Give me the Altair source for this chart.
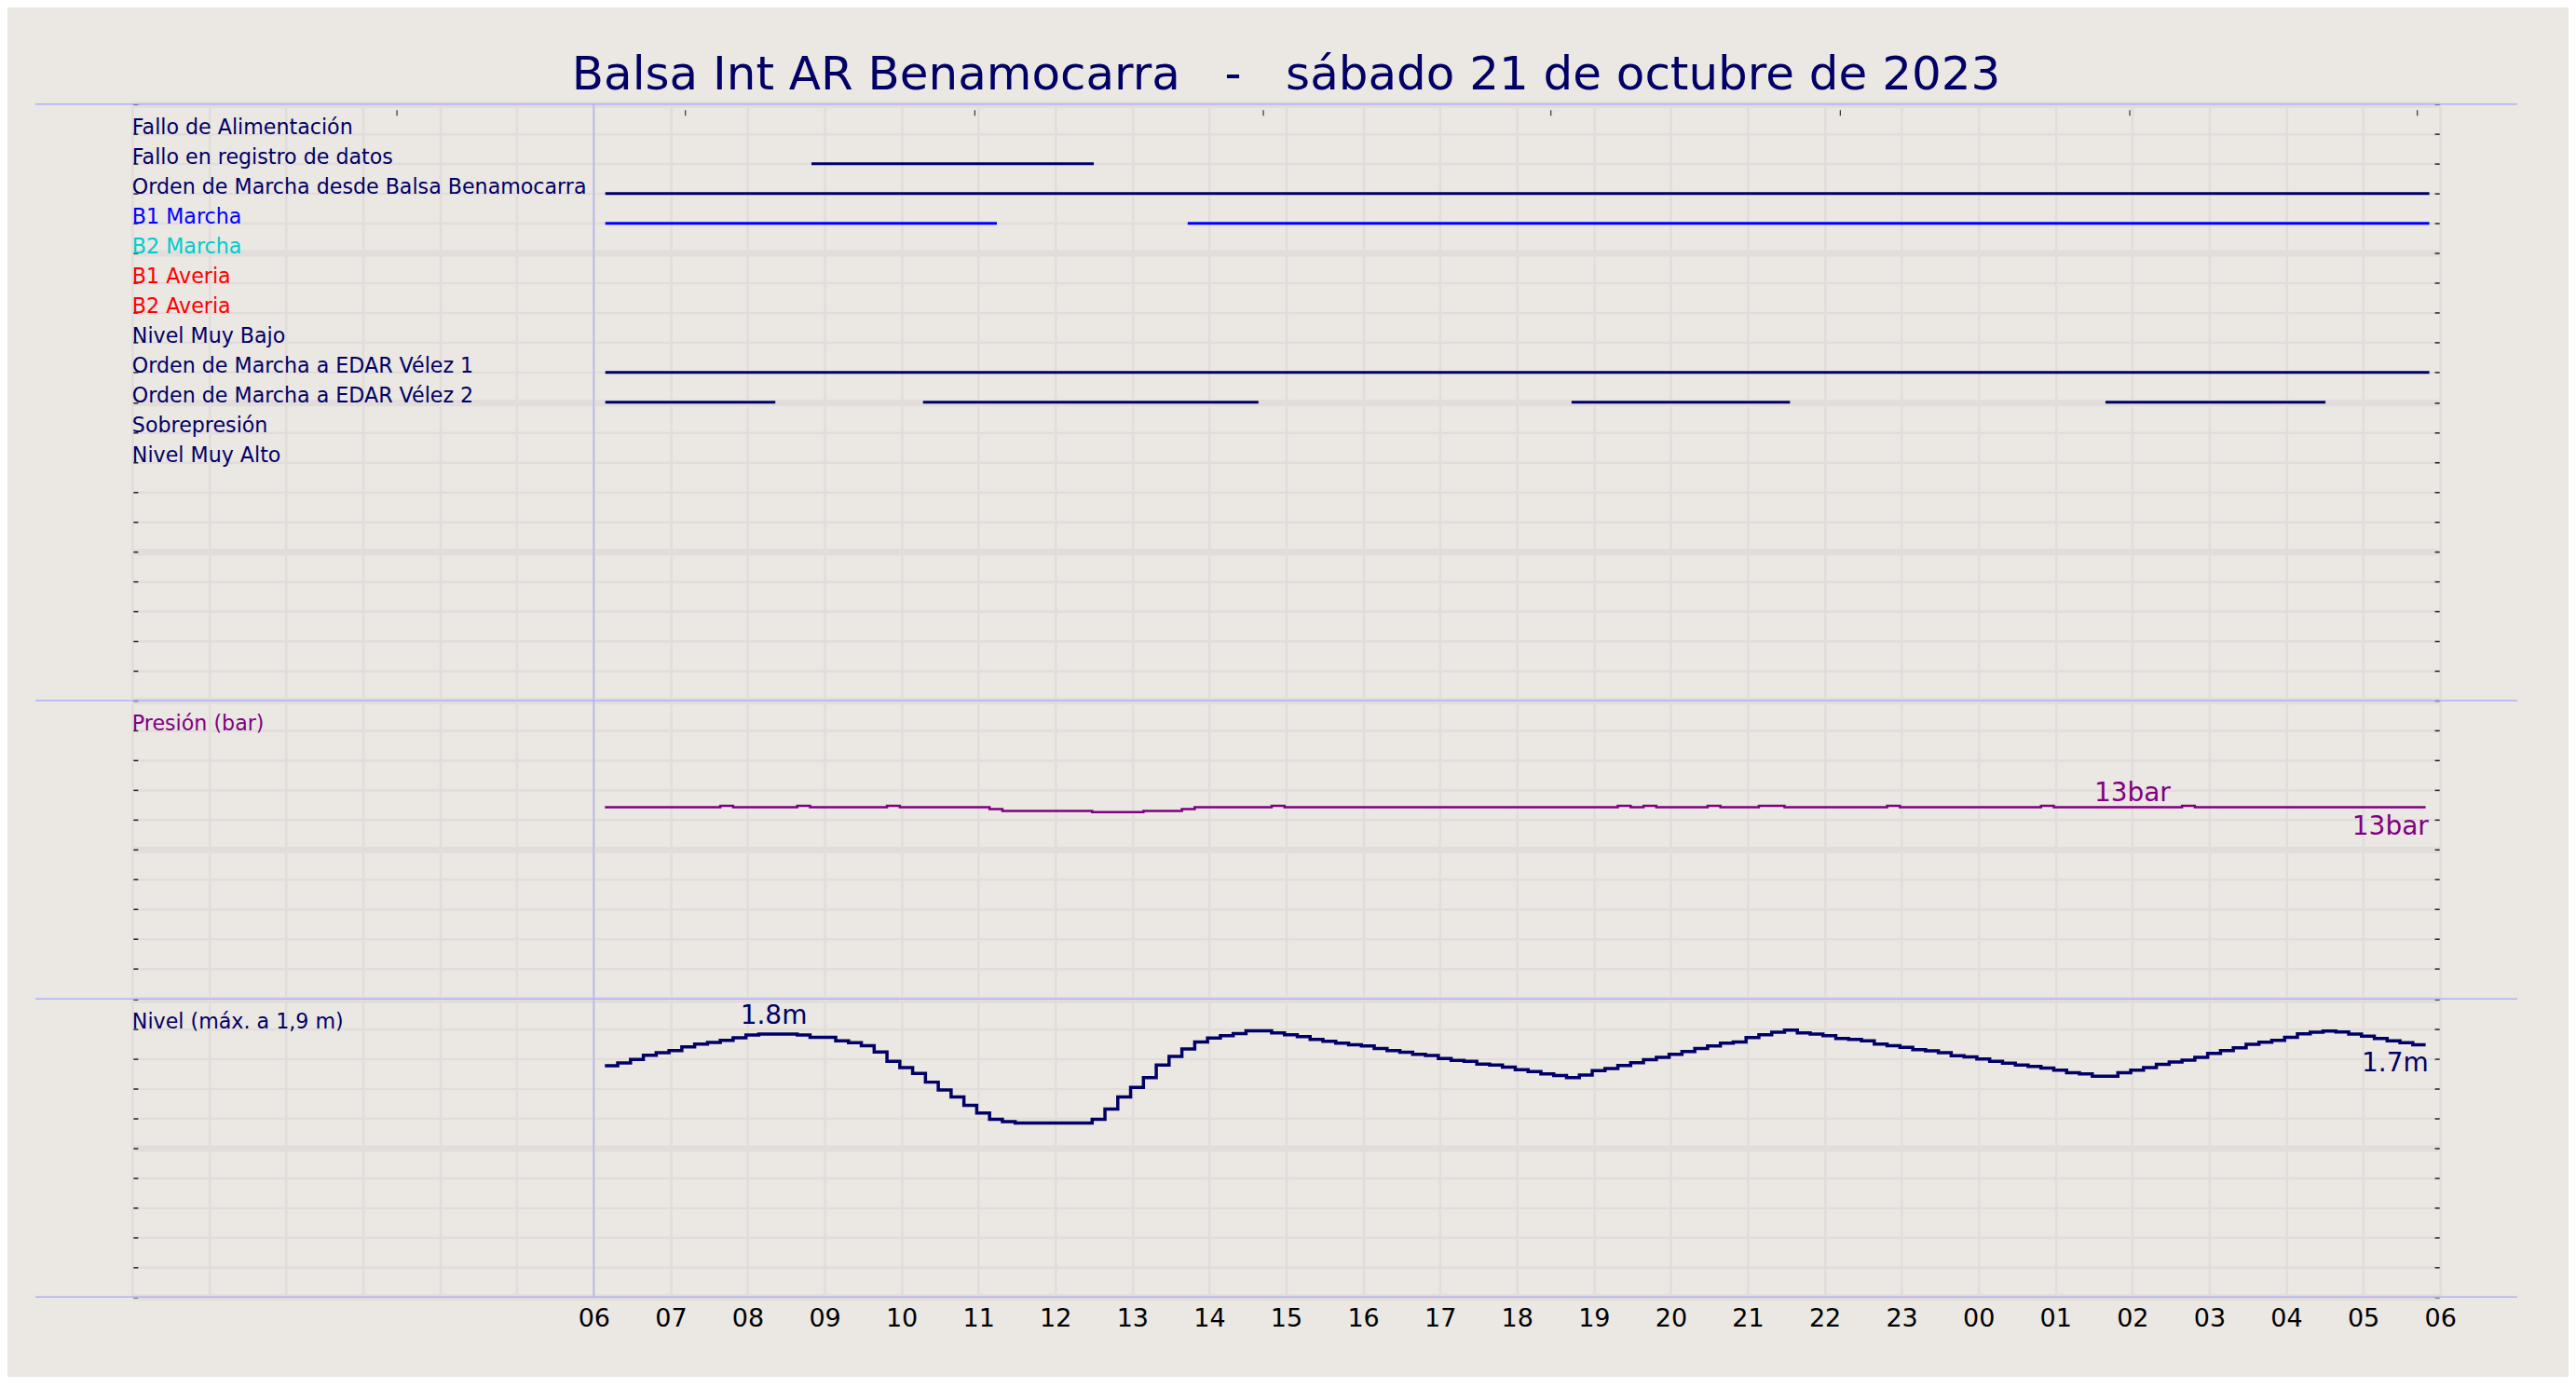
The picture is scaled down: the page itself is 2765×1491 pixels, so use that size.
import altair as alt
import pandas as pd

# ---------------- text ----------------
TITLE = "Balsa Int AR Benamocarra\u00a0\u00a0\u00a0-\u00a0\u00a0\u00a0sábado 21 de octubre de 2023"

NAVY = "#000066"
PURPLE = "#800080"
BLUE = "#0000FF"
CYAN = "#00CCCC"
RED = "#FF0000"
LAVENDER = "#B0B0FA"
GRID = "#E2DDDB"
BG = "#EBE7E2"

# ---------------- signal rows (top panel) ----------------
STATUS_LABELS = [
    "Fallo de Alimentación",
    "Fallo en registro de datos",
    "Orden de Marcha desde Balsa Benamocarra",
    "B1 Marcha",
    "B2 Marcha",
    "B1 Averia",
    "B2 Averia",
    "Nivel Muy Bajo",
    "Orden de Marcha a EDAR Vélez 1",
    "Orden de Marcha a EDAR Vélez 2",
    "Sobrepresión",
    "Nivel Muy Alto",
]
STATUS_COLORS = [NAVY, NAVY, NAVY, BLUE, CYAN, RED, RED, NAVY, NAVY, NAVY, NAVY, NAVY]

# active periods of each signal (hours since 00:00 of the 21st)
EVENT_SIGNAL = [
    "Fallo en registro de datos",
    "Orden de Marcha desde Balsa Benamocarra",
    "B1 Marcha",
    "B1 Marcha",
    "Orden de Marcha a EDAR Vélez 1",
    "Orden de Marcha a EDAR Vélez 2",
    "Orden de Marcha a EDAR Vélez 2",
    "Orden de Marcha a EDAR Vélez 2",
    "Orden de Marcha a EDAR Vélez 2",
]
EVENT_START_H = [8.83, 6.15, 6.15, 13.72, 6.15, 6.15, 10.28, 18.71, 25.65]
EVENT_END_H = [12.50, 29.86, 11.24, 29.86, 29.86, 8.36, 14.64, 21.55, 28.51]

# ---------------- panels ----------------
PANEL_ROWS = [20, 10, 10]
PANEL_TITLES = [None, "Presión (bar)", "Nivel (máx. a 1,9 m)"]
PANEL_TITLE_COLORS = [None, PURPLE, NAVY]
PRESSURE_DOMAIN = [0, 20]
LEVEL_DOMAIN = [0, 2]

# ---------------- time series (10-minute records from 06:09) ----------------
FIRST_SAMPLE_H = 6.145
SAMPLE_MIN = 10

LEVEL_M = [
    1.551, 1.570, 1.593, 1.622, 1.639, 1.653, 1.678, 1.697, 1.707, 1.722, 1.738, 1.757,
    1.763, 1.763, 1.763, 1.757, 1.742, 1.742, 1.718, 1.705, 1.686, 1.643, 1.580, 1.539,
    1.499, 1.441, 1.389, 1.342, 1.286, 1.234, 1.192, 1.176, 1.167, 1.167, 1.167, 1.167,
    1.167, 1.167, 1.192, 1.261, 1.342, 1.406, 1.472, 1.556, 1.614, 1.664, 1.711, 1.737,
    1.753, 1.767, 1.786, 1.786, 1.772, 1.759, 1.747, 1.728, 1.715, 1.703, 1.691, 1.684,
    1.666, 1.653, 1.641, 1.628, 1.620, 1.599, 1.587, 1.580, 1.562, 1.556, 1.541, 1.524,
    1.512, 1.497, 1.485, 1.472, 1.489, 1.518, 1.533, 1.553, 1.572, 1.591, 1.607, 1.628,
    1.647, 1.666, 1.684, 1.703, 1.711, 1.740, 1.759, 1.776, 1.790, 1.772, 1.763, 1.753,
    1.734, 1.727, 1.718, 1.697, 1.686, 1.674, 1.659, 1.651, 1.639, 1.618, 1.610, 1.597,
    1.580, 1.568, 1.556, 1.547, 1.535, 1.522, 1.504, 1.497, 1.481, 1.481, 1.504, 1.522,
    1.539, 1.560, 1.576, 1.589, 1.607, 1.634, 1.653, 1.672, 1.695, 1.709, 1.722, 1.742,
    1.765, 1.776, 1.784, 1.778, 1.763, 1.749, 1.734, 1.718, 1.705, 1.691, 1.691,
]

PRESSURE_BAR = [
    12.84, 12.84, 12.84, 12.84, 12.84, 12.84, 12.84, 12.84, 12.84, 12.94, 12.84, 12.84,
    12.84, 12.84, 12.84, 12.94, 12.84, 12.84, 12.84, 12.84, 12.84, 12.84, 12.94, 12.84,
    12.84, 12.84, 12.84, 12.84, 12.84, 12.84, 12.72, 12.60, 12.60, 12.60, 12.60, 12.60,
    12.60, 12.60, 12.52, 12.52, 12.52, 12.52, 12.60, 12.60, 12.60, 12.72, 12.84, 12.84,
    12.84, 12.84, 12.84, 12.84, 12.94, 12.84, 12.84, 12.84, 12.84, 12.84, 12.84, 12.84,
    12.84, 12.84, 12.84, 12.84, 12.84, 12.84, 12.84, 12.84, 12.84, 12.84, 12.84, 12.84,
    12.84, 12.84, 12.84, 12.84, 12.84, 12.84, 12.84, 12.94, 12.84, 12.94, 12.84, 12.84,
    12.84, 12.84, 12.94, 12.84, 12.84, 12.84, 12.94, 12.94, 12.84, 12.84, 12.84, 12.84,
    12.84, 12.84, 12.84, 12.84, 12.94, 12.84, 12.84, 12.84, 12.84, 12.84, 12.84, 12.84,
    12.84, 12.84, 12.84, 12.84, 12.94, 12.84, 12.84, 12.84, 12.84, 12.84, 12.84, 12.84,
    12.84, 12.84, 12.84, 12.94, 12.84, 12.84, 12.84, 12.84, 12.84, 12.84, 12.84, 12.84,
    12.84, 12.84, 12.84, 12.84, 12.84, 12.84, 12.84, 12.84, 12.84, 12.84, 12.84,
]

# value annotations: [highlighted point, last record]
ANN_PRESSURE_H = [26.0, 29.85]
ANN_PRESSURE_V = [12.84, 12.84]
ANN_PRESSURE_TXT = ["13bar", "13bar"]
ANN_LEVEL_H = [8.34, 29.85]
ANN_LEVEL_V = [1.763, 1.691]
ANN_LEVEL_TXT = ["1.8m", "1.7m"]

# axes
X_DOMAIN_H = [0, 30]
X_GRID_H = list(range(0, 31))
TOP_TICKS_H = [3.43, 7.19, 10.95, 14.70, 18.44, 22.20, 25.96, 29.70]
DAY_START_H = [6]

# ---------------- layout ----------------
W, H = 2480, 1282
N_ROWS = sum(PANEL_ROWS)
BOUNDS = [0]
for r in PANEL_ROWS:
    BOUNDS.append(BOUNDS[-1] + r)
ROW_PX = H / N_ROWS

# ---------------- frames ----------------
hours = [FIRST_SAMPLE_H + i * SAMPLE_MIN / 60 for i in range(len(LEVEL_M))]
ts_df = pd.DataFrame({"hour": hours, "level": LEVEL_M, "pressure": PRESSURE_BAR})

label_rows, label_txt, label_col = [], [], []
for i, (lab, col) in enumerate(zip(STATUS_LABELS, STATUS_COLORS)):
    label_rows.append(i + 1)
    label_txt.append(lab)
    label_col.append(col)
for p in range(1, len(PANEL_ROWS)):
    label_rows.append(BOUNDS[p] + 1)
    label_txt.append(PANEL_TITLES[p])
    label_col.append(PANEL_TITLE_COLORS[p])
labels_df = pd.DataFrame({"row": label_rows, "label": label_txt, "color": label_col})

events_df = pd.DataFrame({
    "row": [STATUS_LABELS.index(s) + 1 for s in EVENT_SIGNAL],
    "color": [STATUS_COLORS[STATUS_LABELS.index(s)] for s in EVENT_SIGNAL],
    "start": EVENT_START_H,
    "end": EVENT_END_H,
})
sep_h_df = pd.DataFrame({"row": BOUNDS})
sep_v_df = pd.DataFrame({"hour": DAY_START_H})
annp_df = pd.DataFrame({"hour": ANN_PRESSURE_H, "v": ANN_PRESSURE_V, "t": ANN_PRESSURE_TXT})
annl_df = pd.DataFrame({"hour": ANN_LEVEL_H, "v": ANN_LEVEL_V, "t": ANN_LEVEL_TXT})

# ---------------- scales ----------------
X = alt.Scale(domain=X_DOMAIN_H, nice=False, zero=False)
ROWS = alt.Scale(domain=[0, N_ROWS], reverse=True, nice=False, zero=False)
P_SCALE = alt.Scale(domain=PRESSURE_DOMAIN, range=[BOUNDS[2] * ROW_PX, BOUNDS[1] * ROW_PX], nice=False, zero=False)
L_SCALE = alt.Scale(domain=LEVEL_DOMAIN, range=[BOUNDS[3] * ROW_PX, BOUNDS[2] * ROW_PX], nice=False, zero=False)
ROW_TICKS = list(range(N_ROWS + 1))

# ---------------- layers ----------------
sep_h = alt.Chart(sep_h_df).mark_rule(color=LAVENDER, strokeWidth=1.5).encode(
    y=alt.Y("row:Q", scale=ROWS, axis=alt.Axis(
        orient="left", values=ROW_TICKS, grid=True, gridColor=GRID, gridOpacity=1,
        gridWidth={"condition": {"test": "datum.value % 5 === 0", "value": 7}, "value": 2.5},
        ticks=True, tickSize=5, tickColor="#222222", tickWidth=1.5, offset=-6,
        labels=False, domain=False, title=None)),
    x=alt.value(-104),
    x2=alt.value(W + 83),
)

sep_v = alt.Chart(sep_v_df).mark_rule(color=LAVENDER, strokeWidth=1.5).encode(
    x=alt.X("hour:Q", scale=X, axis=alt.Axis(
        orient="bottom", values=X_GRID_H, grid=True, gridColor=GRID, gridOpacity=1, gridWidth=2.5,
        ticks=False, domain=False, labelFontSize=27, labelColor="#000000", labelPadding=10,
        labelFlush=False, labelOverlap=False, title=None,
        labelExpr="datum.value >= 6 ? ((datum.value % 24) < 10 ? '0' : '') + (datum.value % 24) : ''")),
)

events = alt.Chart(events_df).mark_rule(strokeWidth=3, strokeCap="butt").encode(
    x=alt.X("start:Q", scale=X, axis=alt.Axis(
        orient="top", values=TOP_TICKS_H, ticks=True, tickSize=6, tickColor="#333333", tickWidth=1.2,
        offset=-12, labels=False, domain=False, grid=False, title=None)),
    x2="end:Q",
    y=alt.Y("row:Q", scale=ROWS, axis=alt.Axis(
        orient="right", values=ROW_TICKS, ticks=True, tickSize=5, tickColor="#222222", tickWidth=1.5,
        offset=-6, labels=False, domain=False, grid=False, title=None)),
    color=alt.Color("color:N", scale=None),
)

pressure = alt.Chart(ts_df).mark_line(interpolate="step-after", color=PURPLE, strokeWidth=2.5).encode(
    x=alt.X("hour:Q", scale=X, axis=None),
    y=alt.Y("pressure:Q", scale=P_SCALE, axis=None),
)

level = alt.Chart(ts_df).mark_line(interpolate="step-after", color=NAVY, strokeWidth=3.5).encode(
    x=alt.X("hour:Q", scale=X, axis=None),
    y=alt.Y("level:Q", scale=L_SCALE, axis=None),
)

labels = alt.Chart(labels_df).mark_text(align="left", baseline="alphabetic", fontSize=22.2).encode(
    x=alt.XDatum(0, scale=X, axis=None),
    y=alt.Y("row:Q", scale=ROWS, axis=None),
    text="label:N",
    color=alt.Color("color:N", scale=None),
)

annp_peak = alt.Chart(annp_df.iloc[[0]]).mark_text(align="center", baseline="alphabetic", fontSize=28, dy=-7, color=PURPLE).encode(
    x=alt.X("hour:Q", scale=X, axis=None), y=alt.Y("v:Q", scale=P_SCALE, axis=None), text="t:N")
annp_end = alt.Chart(annp_df.iloc[[1]]).mark_text(align="right", baseline="alphabetic", fontSize=28, dy=29, color=PURPLE).encode(
    x=alt.X("hour:Q", scale=X, axis=None), y=alt.Y("v:Q", scale=P_SCALE, axis=None), text="t:N")
annl_peak = alt.Chart(annl_df.iloc[[0]]).mark_text(align="center", baseline="alphabetic", fontSize=28, dy=-11, color=NAVY).encode(
    x=alt.X("hour:Q", scale=X, axis=None), y=alt.Y("v:Q", scale=L_SCALE, axis=None), text="t:N")
annl_end = alt.Chart(annl_df.iloc[[1]]).mark_text(align="right", baseline="alphabetic", fontSize=28, dy=28, color=NAVY).encode(
    x=alt.X("hour:Q", scale=X, axis=None), y=alt.Y("v:Q", scale=L_SCALE, axis=None), text="t:N")

chart = (
    alt.layer(sep_h, sep_v, events, pressure, level, labels, annp_peak, annp_end, annl_peak, annl_end)
    .resolve_scale(y="independent")
    .resolve_axis(x="independent", y="independent")
    .properties(
        width=W,
        height=H,
        title=alt.TitleParams(text=TITLE, fontSize=50, color=NAVY, font="DejaVu Sans",
                              fontWeight="normal", anchor="middle", baseline="alphabetic", offset=-35),
        autosize=alt.AutoSizeParams(type="none"),
        padding={"left": 134, "top": 103, "right": 138, "bottom": 85},
        background=BG,
    )
    .configure(font="DejaVu Sans")
    .configure_view(fill=BG, strokeWidth=0)
)

chart.save("out.html", embed_options={"renderer": "svg", "actions": False})
